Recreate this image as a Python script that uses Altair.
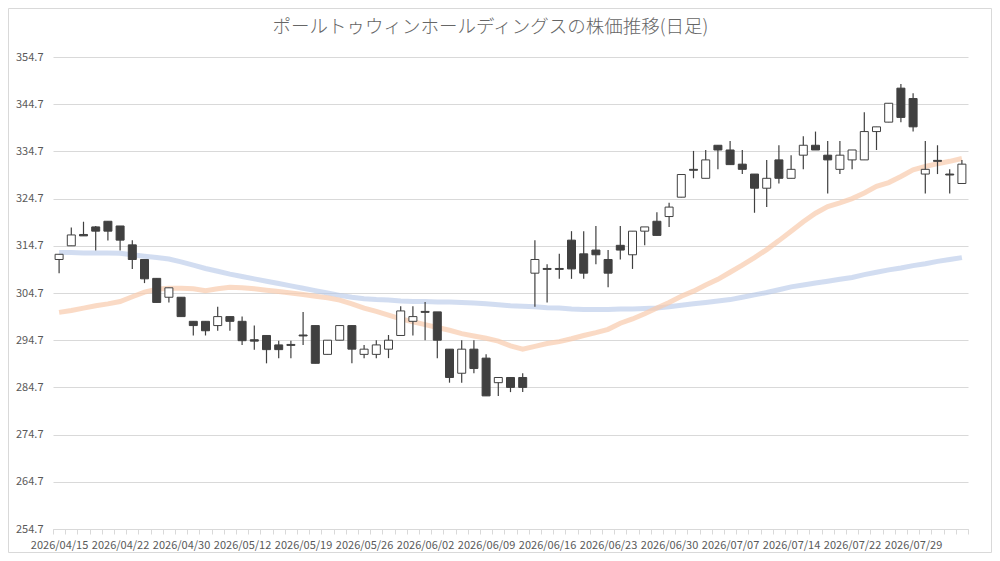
import json
import altair as alt
import pandas as pd

dates = [
    "2026/04/15", "2026/04/16", "2026/04/17", "2026/04/20", "2026/04/21",
    "2026/04/22", "2026/04/23", "2026/04/24", "2026/04/27", "2026/04/28",
    "2026/04/30", "2026/05/01", "2026/05/07", "2026/05/08", "2026/05/11",
    "2026/05/12", "2026/05/13", "2026/05/14", "2026/05/15", "2026/05/18",
    "2026/05/19", "2026/05/20", "2026/05/21", "2026/05/22", "2026/05/25",
    "2026/05/26", "2026/05/27", "2026/05/28", "2026/05/29", "2026/06/01",
    "2026/06/02", "2026/06/03", "2026/06/04", "2026/06/05", "2026/06/08",
    "2026/06/09", "2026/06/10", "2026/06/11", "2026/06/12", "2026/06/15",
    "2026/06/16", "2026/06/17", "2026/06/18", "2026/06/19", "2026/06/22",
    "2026/06/23", "2026/06/24", "2026/06/25", "2026/06/26", "2026/06/29",
    "2026/06/30", "2026/07/01", "2026/07/02", "2026/07/03", "2026/07/06",
    "2026/07/07", "2026/07/08", "2026/07/09", "2026/07/10", "2026/07/13",
    "2026/07/14", "2026/07/15", "2026/07/16", "2026/07/17", "2026/07/21",
    "2026/07/22", "2026/07/23", "2026/07/24", "2026/07/27", "2026/07/28",
    "2026/07/29", "2026/07/30", "2026/07/31", "2026/08/03", "2026/08/04",
]

opens = [
    311.8, 314.7, 317.1, 318.7, 319.9, 318.9, 314.9, 311.8, 307.8, 303.8,
    303.8, 298.7, 298.7, 297.8, 299.7, 298.7, 294.8, 295.7, 293.7, 293.8,
    295.8, 297.8, 291.7, 294.7, 297.8, 291.7, 291.7, 292.8, 295.7, 298.7,
    300.8, 300.7, 292.8, 287.7, 292.8, 290.9, 285.7, 286.8, 286.8, 308.9,
    309.9, 309.9, 315.9, 313.0, 313.8, 311.8, 314.8, 312.8, 317.8, 319.9,
    320.9, 325.0, 330.9, 329.0, 336.0, 335.0, 332.0, 329.9, 326.9, 332.9,
    329.0, 333.9, 336.0, 333.9, 330.9, 332.9, 332.9, 338.9, 340.9, 348.1,
    345.9, 329.9, 332.8, 329.9, 327.9,
]
highs = [
    312.9, 318.6, 319.8, 318.9, 319.9, 318.9, 315.9, 311.8, 307.8, 305.8,
    303.8, 298.7, 298.7, 301.8, 299.7, 299.7, 297.8, 295.7, 294.6, 294.6,
    300.7, 297.8, 294.7, 297.8, 297.8, 293.7, 294.7, 295.8, 301.9, 301.9,
    302.8, 300.7, 292.8, 294.7, 294.7, 291.7, 286.8, 286.8, 287.7, 315.9,
    310.8, 313.0, 317.8, 317.8, 318.9, 313.8, 318.9, 317.8, 318.7, 321.8,
    323.8, 329.8, 334.8, 335.0, 336.0, 336.9, 335.0, 329.9, 332.9, 336.0,
    333.9, 337.9, 338.9, 336.9, 336.9, 335.0, 343.0, 339.9, 344.9, 349.0,
    347.0, 336.9, 336.0, 330.9, 332.9,
]
lows = [
    308.9, 314.7, 316.8, 313.7, 315.8, 313.7, 309.8, 306.8, 302.7, 302.7,
    299.7, 295.7, 295.7, 296.7, 296.7, 293.7, 292.7, 289.8, 290.9, 290.9,
    293.7, 289.8, 291.7, 294.7, 289.8, 290.9, 290.9, 290.9, 295.7, 295.7,
    294.7, 290.9, 285.7, 285.7, 287.7, 282.9, 282.9, 283.7, 283.7, 301.8,
    302.7, 307.7, 307.7, 307.7, 310.8, 305.9, 311.8, 309.8, 314.8, 316.9,
    318.7, 325.0, 329.0, 329.0, 330.9, 331.9, 329.9, 321.7, 322.9, 327.9,
    329.0, 330.9, 335.0, 325.8, 329.9, 330.9, 332.9, 335.0, 340.9, 340.9,
    338.9, 325.8, 329.9, 325.8, 327.9,
]
closes = [
    312.9, 317.0, 316.8, 317.8, 317.8, 315.9, 311.8, 307.7, 302.7, 305.8,
    299.7, 297.8, 296.7, 299.7, 298.7, 294.6, 294.5, 292.7, 292.7, 293.6,
    295.6, 289.8, 294.7, 297.8, 292.8, 292.8, 293.7, 294.7, 300.9, 299.7,
    300.6, 294.7, 286.8, 292.8, 288.7, 282.9, 286.8, 284.7, 284.7, 311.8,
    309.7, 309.7, 309.8, 308.9, 312.8, 308.9, 313.8, 317.8, 318.7, 316.9,
    322.9, 329.8, 330.7, 332.9, 335.0, 331.9, 330.9, 326.9, 329.0, 329.0,
    330.9, 336.0, 335.0, 332.9, 333.9, 335.0, 338.9, 339.9, 344.9, 341.9,
    339.9, 330.9, 332.6, 329.7, 332.0,
]
ma_short = [
    300.6, 301.0, 301.5, 302.0, 302.4, 302.9, 303.9, 304.9, 305.5, 305.7,
    305.7, 305.6, 305.2, 305.6, 305.9, 305.8, 305.6, 305.3, 305.0, 304.7,
    304.4, 304.0, 303.7, 303.2, 302.4, 301.5, 300.8, 300.0, 299.2, 298.6,
    298.0, 297.4, 296.8, 296.1, 295.6, 295.1, 294.5, 293.5, 292.8, 293.4,
    294.0, 294.4, 295.0, 295.7, 296.3, 297.0, 298.3, 299.2, 300.3, 301.5,
    302.7, 304.0, 305.1, 306.4, 307.6, 309.1, 310.6, 312.2, 313.9, 315.8,
    317.8, 319.8, 321.6, 323.0, 323.8, 324.7, 325.9, 327.3, 328.1, 329.4,
    330.8, 331.5, 332.1, 332.6, 333.2,
]
ma_long = [
    313.3, 313.3, 313.2, 313.2, 313.2, 313.1, 312.8, 312.5, 312.2, 311.9,
    311.3, 310.6, 309.9, 309.3, 308.7, 308.2, 307.7, 307.2, 306.7, 306.2,
    305.7, 305.2, 304.7, 304.2, 303.8, 303.5, 303.3, 303.2, 303.0, 302.9,
    302.9, 302.8, 302.8, 302.7, 302.6, 302.4, 302.2, 302.0, 301.9, 301.8,
    301.6, 301.5, 301.3, 301.2, 301.2, 301.2, 301.3, 301.3, 301.4, 301.5,
    301.8, 302.1, 302.4, 302.7, 303.0, 303.3, 303.8, 304.3, 304.8, 305.4,
    306.0, 306.4, 306.8, 307.2, 307.6, 308.0, 308.6, 309.1, 309.6, 310.0,
    310.5, 310.9, 311.4, 311.8, 312.2,
]
y_ticks = [254.7, 264.7, 274.7, 284.7, 294.7, 304.7, 314.7, 324.7, 334.7, 344.7, 354.7]
label_dates = [
    "2026/04/15", "2026/04/22", "2026/04/30", "2026/05/12", "2026/05/19",
    "2026/05/26", "2026/06/02", "2026/06/09", "2026/06/16", "2026/06/23",
    "2026/06/30", "2026/07/07", "2026/07/14", "2026/07/22", "2026/07/29",
]
title_text = "ポールトゥウィンホールディングスの株価推移(日足)"

df = pd.DataFrame({
    "date": dates, "open": opens, "high": highs, "low": lows,
    "close": closes, "ma_short": ma_short, "ma_long": ma_long,
})

FONT = "Noto Sans CJK JP"
TXT = "#595959"
GRID = "#d9d9d9"
DARK = "#404040"
W, H = 915, 472

xscale = alt.Scale(domain=dates, paddingInner=0, paddingOuter=0)
yscale = alt.Scale(domain=[254.7, 354.7], nice=False, zero=False)

x_axis = alt.Axis(
    labelExpr="indexof(%s, datum.value) >= 0 ? datum.value : ''" % json.dumps(label_dates),
    labelAngle=0, labelOverlap=False, tickBand="extent", tickColor=GRID,
    tickSize=5, domainColor=GRID, grid=False, labelPadding=5,
    labelFontSize=11, labelColor=TXT, labelFont=FONT,
)
y_axis = alt.Axis(
    values=y_ticks, format=".1f", grid=True, gridColor=GRID, domain=False,
    ticks=False, labelPadding=10, labelFontSize=11, labelColor=TXT, labelFont=FONT,
)

X = alt.X("date:O", scale=xscale, axis=x_axis, title=None)


def Y(field):
    return alt.Y(field, type="quantitative", scale=yscale, axis=y_axis, title=None)


base = alt.Chart(df)

ma_l = base.mark_line(color="#B4C7E7", strokeWidth=5, opacity=0.6).encode(
    x=X, y=Y("ma_long"),
)
ma_s = base.mark_line(color="#F8CBAD", strokeWidth=5, opacity=0.7).encode(
    x=X, y=Y("ma_short"),
)
wicks = base.mark_rule(color=DARK, strokeWidth=1.2).encode(
    x=X, y=Y("low"), y2="high:Q",
)
bodies = base.mark_bar(size=8, stroke=DARK, strokeWidth=1).encode(
    x=X, y=Y("open"), y2="close:Q",
    fill=alt.condition("datum.close >= datum.open", alt.value("#ffffff"), alt.value(DARK)),
)
single = alt.Chart(pd.DataFrame({"t": [title_text]}))
border = single.mark_rect(
    fillOpacity=0, stroke=GRID, strokeWidth=1
).encode(
    x=alt.value(-44.5), x2=alt.value(938.5), y=alt.value(-48.5), y2=alt.value(495.5)
)
title = single.mark_text(
    font=FONT, fontSize=18.5, fontWeight=300, color="#666666", align="center", baseline="middle"
).encode(
    text="t:N", x=alt.value(447.5 - 10), y=alt.value(-30)
)

chart = alt.layer(ma_l, ma_s, wicks, bodies, border, title).properties(
    width=W, height=H,
    autosize=alt.AutoSizeParams(type="none"),
    padding={"left": 45, "top": 49, "right": 24, "bottom": 24},
).configure_view(stroke=None)

chart.save("out.html", embed_options={"renderer": "svg", "actions": False})
